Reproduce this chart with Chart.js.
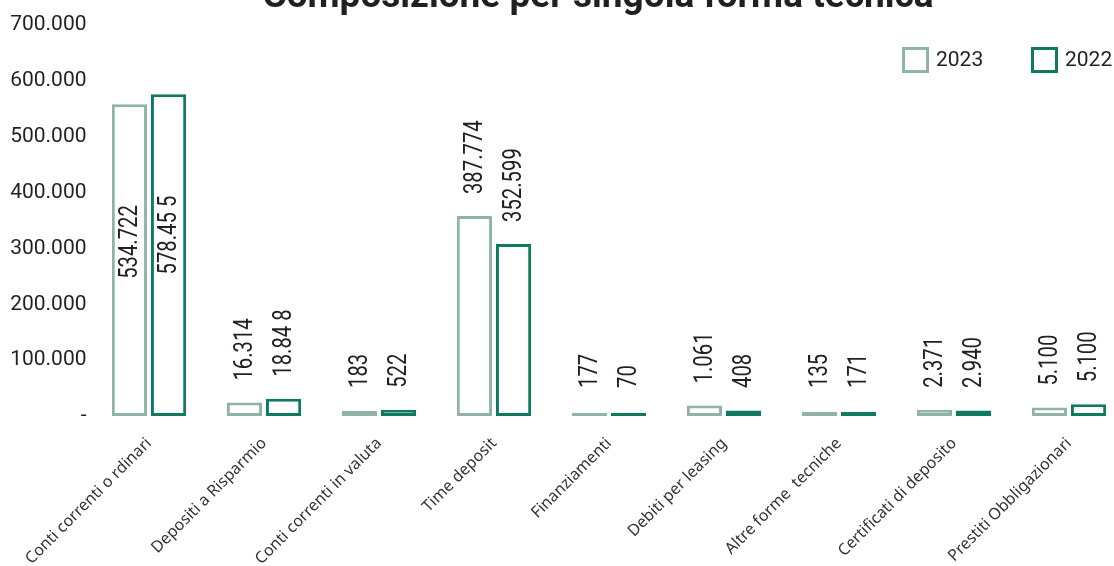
<!DOCTYPE html>
<html>
<head>
<meta charset="utf-8">
<script src="https://cdn.jsdelivr.net/npm/chart.js@4/dist/chart.umd.min.js"></script>
<style>
  html, body { margin: 0; padding: 0; background: #fff; overflow: hidden; }
  #wrap { position: relative; width: 1130px; height: 566px; }
</style>
</head>
<body>
<div id="wrap"><canvas id="myChart"></canvas></div>
<script>
const categories = [
  'Conti correnti o rdinari',
  'Depositi a Risparmio',
  'Conti correnti in valuta',
  'Time deposit',
  'Finanziamenti',
  'Debiti per leasing',
  'Altre forme  tecniche',
  'Certificati di deposito',
  'Prestiti Obbligazionari'
];

// bar heights as drawn in the picture
const values2023 = [558000, 24000, 9000, 358000, 5400, 19000, 7000, 11000, 15000];
const values2022 = [576000, 31000, 11000, 308000, 5400, 10000, 7000, 10000, 21000];

// printed labels
const labels2023 = ['534.722', '16.314', '183', '387.774', '177', '1.061', '135', '2.371', '5.100'];
const labels2022 = ['578.45 5', '18.84 8', '522', '352.599', '70', '408', '171', '2.940', '5.100'];

const yTicks = [0, 100000, 200000, 300000, 400000, 500000, 600000, 700000];

const color2023 = '#8fb4a5';
const color2022 = '#107a61';

const fmt = v => v === 0 ? '-' : v.toLocaleString('de-DE');

const barLabels = {
  id: 'barLabels',
  afterDatasetsDraw(chart) {
    const ctx = chart.ctx;
    const texts = [labels2023, labels2022];
    chart.data.datasets.forEach((ds, i) => {
      const meta = chart.getDatasetMeta(i);
      meta.data.forEach((bar, j) => {
        const h = bar.base - bar.y;
        let y;
        if (h > 250) y = bar.base - h * 0.44;
        else y = Math.min(bar.y - 22, bar.base - 28);
        ctx.save();
        ctx.translate(bar.x, y);
        ctx.rotate(-Math.PI / 2);
        ctx.scale(0.78, 1);
        ctx.font = '26px Roboto';
        ctx.fillStyle = '#231f20';
        ctx.textAlign = 'left';
        ctx.textBaseline = 'middle';
        ctx.fillText(texts[i][j], 0, 1);
        ctx.restore();
      });
    });
  }
};

const titleAndLegend = {
  id: 'titleAndLegend',
  afterDraw(chart) {
    const ctx = chart.ctx;
    ctx.save();
    ctx.font = 'bold 37px Roboto';
    ctx.fillStyle = '#231f20';
    ctx.textAlign = 'center';
    ctx.textBaseline = 'alphabetic';
    ctx.fillText('Composizione per singola forma tecnica', 598, 7);

    const items = [[902, chart.data.datasets[0]], [1031, chart.data.datasets[1]]];
    ctx.font = '21px Roboto';
    ctx.textAlign = 'left';
    ctx.textBaseline = 'middle';
    items.forEach(([x, ds]) => {
      ctx.fillStyle = '#fff';
      ctx.fillRect(x, 47, 27, 26);
      ctx.strokeStyle = ds.borderColor;
      ctx.lineWidth = 3;
      ctx.strokeRect(x + 1.5, 48.5, 24, 23);
      ctx.fillStyle = '#231f20';
      ctx.fillText(ds.label, x + 34, 61);
    });
    ctx.restore();
  }
};

const ctx = document.getElementById('myChart').getContext('2d');
new Chart(ctx, {
  type: 'bar',
  data: {
    labels: categories,
    datasets: [{
      label: '2023',
      data: values2023,
      backgroundColor: '#ffffff',
      borderColor: color2023,
      borderWidth: 3,
      borderSkipped: false
    }, {
      label: '2022',
      data: values2022,
      backgroundColor: '#ffffff',
      borderColor: color2022,
      borderWidth: 3,
      borderSkipped: false
    }]
  },
  options: {
    responsive: true,
    maintainAspectRatio: false,
    animation: false,
    datasets: {
      bar: { categoryPercentage: 0.68, barPercentage: 0.9 }
    },
    layout: {
      autoPadding: false,
      padding: { top: 25, left: 0, right: 3.5, bottom: 0 }
    },
    plugins: {
      legend: { display: false },
      title: { display: false },
      tooltip: { enabled: false }
    },
    scales: {
      x: {
        grid: { display: false, drawTicks: false },
        border: { display: false },
        afterFit: s => { s.height = 150; },
        ticks: {
          autoSkip: false,
          maxRotation: 45,
          minRotation: 45,
          padding: 18,
          color: '#333',
          font: { family: 'Noto Sans', size: 16 }
        }
      },
      y: {
        min: 0,
        max: 700000,
        grid: { display: false, drawTicks: false },
        border: { display: false },
        afterFit: s => { s.width = 91.5; },
        afterBuildTicks: s => { s.ticks = yTicks.map(v => ({ value: v })); },
        ticks: {
          padding: 5,
          color: '#231f20',
          font: { family: 'Roboto', size: 21 },
          callback: v => fmt(v)
        }
      }
    }
  },
  plugins: [barLabels, titleAndLegend]
});
</script>
</body>
</html>
